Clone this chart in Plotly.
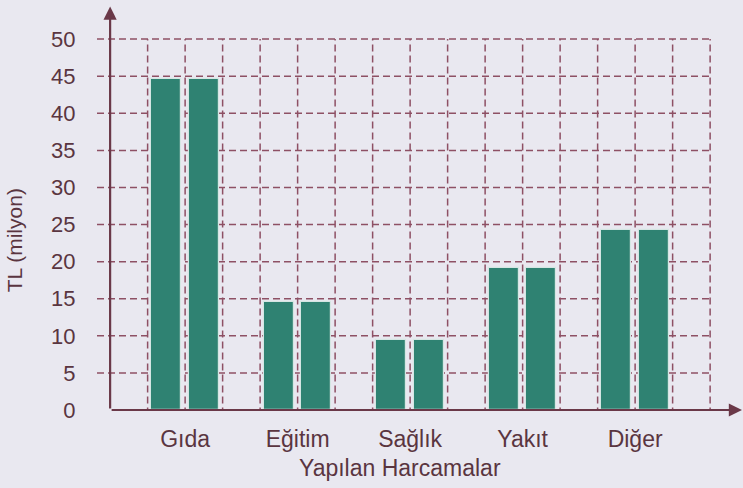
import plotly.graph_objects as go

categories = ["Gıda", "Eğitim", "Sağlık", "Yakıt", "Diğer"]
values = [44.6, 14.6, 9.4, 19.2, 24.3]
y_ticks = [0, 5, 10, 15, 20, 25, 30, 35, 40, 45, 50]

centers = [2 + 3 * i for i in range(len(categories))]
bar_color = "#2f8272"
grid_color = "#8e5064"
axis_color = "#6a3848"
text_color = "#5a3540"
bg = "#e9e8f0"
font_family = "Liberation Sans, Arial, sans-serif"

fig = go.Figure()
for off in (-0.5, 0.5):
    fig.add_trace(go.Bar(
        x=[c + off for c in centers], y=values, width=0.8,
        marker=dict(color=bar_color, line=dict(color="#d5e6e3", width=1.2)),
        showlegend=False, hoverinfo="y",
    ))

shapes = []
for yv in y_ticks[1:]:
    shapes.append(dict(type="line", xref="x", yref="y", x0=-0.35, x1=16, y0=yv, y1=yv,
                       line=dict(color=grid_color, width=1.5, dash="7px,4px"), layer="below"))
for xv in range(1, 17):
    shapes.append(dict(type="line", xref="x", yref="y", x0=xv, x1=xv, y0=-0.6, y1=50,
                       line=dict(color=grid_color, width=1.5, dash="7px,4px"), layer="below"))

annotations = [
    dict(x=16.85, y=0, ax=0, ay=0, xref="x", yref="y", axref="x", ayref="y", text="",
         showarrow=True, arrowhead=2, arrowsize=1.2, arrowwidth=2.2, arrowcolor=axis_color),
    dict(x=0, y=54.4, ax=0, ay=0, xref="x", yref="y", axref="x", ayref="y", text="",
         showarrow=True, arrowhead=2, arrowsize=1.2, arrowwidth=2.2, arrowcolor=axis_color),
    dict(x=0.47, y=-0.143, xref="paper", yref="paper", text="Yapılan Harcamalar", showarrow=False,
         xanchor="center", yanchor="middle",
         font=dict(size=23, color=text_color, family=font_family)),
    dict(x=-0.128, y=0.42, xref="paper", yref="paper", text="TL (milyon)", textangle=-90,
         xanchor="center", yanchor="middle", showarrow=False,
         font=dict(size=21, color=text_color, family=font_family)),
]

fig.update_layout(
    width=743, height=488,
    margin=dict(l=97, r=1, t=5, b=78),
    paper_bgcolor=bg, plot_bgcolor=bg,
    font=dict(family=font_family, color=text_color),
    shapes=shapes, annotations=annotations,
    bargap=0,
    xaxis=dict(range=[-0.35, 16.85], tickvals=centers, ticktext=categories,
               showgrid=False, zeroline=False, showline=False,
               ticks="outside", ticklen=8, tickcolor="rgba(0,0,0,0)",
               tickfont=dict(size=23, color=text_color), fixedrange=True),
    yaxis=dict(range=[0, 54.6], tickvals=y_ticks, showgrid=False, zeroline=False, showline=False,
               ticks="outside", ticklen=16, tickcolor="rgba(0,0,0,0)",
               tickfont=dict(size=22, color=text_color), fixedrange=True),
)

fig.write_html("out.html", config={"displayModeBar": False},
               post_script="document.body.style.margin='0';document.body.style.background='%s';" % bg)
